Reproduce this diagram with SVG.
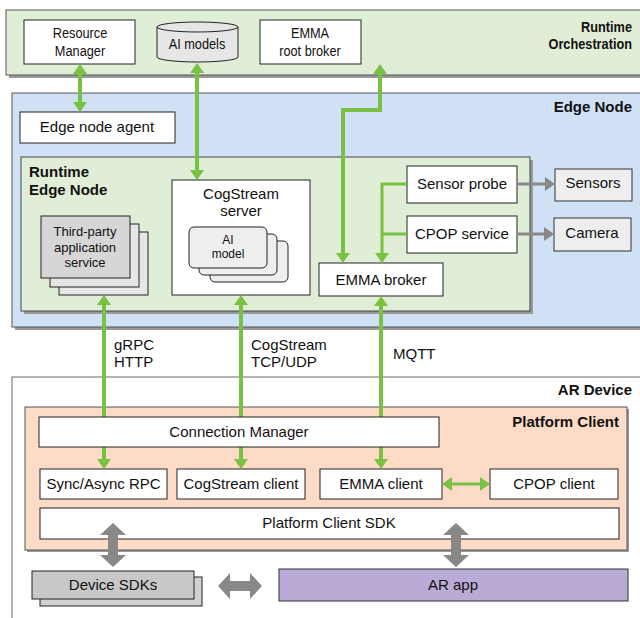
<svg xmlns="http://www.w3.org/2000/svg" width="640" height="618" viewBox="0 0 640 618">
<style>
text{font-family:"Liberation Sans",Arial,sans-serif;font-size:15px;fill:#111}
.b{font-weight:bold}
.s{font-size:13px}
.m{text-anchor:middle}
.e{text-anchor:end}
.box{fill:#fff;stroke:#222;stroke-width:1}
.gbox{fill:#eeeeee;stroke:#333;stroke-width:1}
.gl{fill:none;stroke:#78c143;stroke-width:4}
.gt{fill:none;stroke:#78c143;stroke-width:3}
.gy{fill:none;stroke:#888;stroke-width:3}
.fat{fill:#888}
.sh{fill:#999}
</style>
<defs>
<marker id="ga" markerUnits="userSpaceOnUse" markerWidth="10" markerHeight="14" refX="0" refY="7" orient="auto-start-reverse" viewBox="0 0 10 14"><path d="M0,0 L10,7 L0,14 Z" fill="#78c143"/></marker>
<marker id="gya" markerUnits="userSpaceOnUse" markerWidth="10" markerHeight="14" refX="0" refY="7" orient="auto" viewBox="0 0 10 14"><path d="M0,0 L10,7 L0,14 Z" fill="#888"/></marker>
<path id="fatv" d="M0,-22 L13,-10 L5,-10 L5,10 L13,10 L0,22 L-13,10 L-5,10 L-5,-10 L-13,-10 Z"/>
</defs>

<g id="runtime-orchestration">
<rect class="sh" x="9" y="13" width="640" height="65"/>
<rect x="6" y="10" width="640" height="65" fill="#e1eed7" stroke="#555"/>
<text class="b e" transform="translate(632,32) scale(0.85,1)">Runtime</text>
<text class="b e" transform="translate(632,49) scale(0.85,1)">Orchestration</text>
</g>
<g id="resource-manager">
<rect class="box" x="24" y="20" width="111" height="44"/>
<text class="m" transform="translate(80,38) scale(0.85,1)">Resource</text>
<text class="m" transform="translate(80,56) scale(0.85,1)">Manager</text>
</g>
<g id="ai-models">
<path d="M157,27 A40.5,5 0 0 1 238,27 L238,57 A40.5,5 0 0 1 157,57 Z" fill="#e6e6e6" stroke="#222"/>
<path d="M157,27 A40.5,5 0 0 0 238,27" fill="none" stroke="#222"/>
<text class="m" transform="translate(197,49) scale(0.85,1)">AI models</text>
</g>
<g id="emma-root-broker">
<rect class="box" x="260" y="20" width="101" height="44"/>
<text class="m" transform="translate(310,38) scale(0.85,1)">EMMA</text>
<text class="m" transform="translate(310,56) scale(0.85,1)">root broker</text>
</g>

<g id="edge-node">
<rect class="sh" x="15" y="96" width="640" height="234"/>
<rect x="12" y="93" width="640" height="234" fill="#d0e1f5" stroke="#555"/>
<text class="b e" x="632" y="112">Edge Node</text>
</g>
<g id="edge-node-agent">
<rect class="box" x="20" y="112" width="155" height="31"/>
<text class="m" x="97" y="132">Edge node agent</text>
</g>
<g id="runtime-edge-node">
<rect class="sh" x="24" y="160" width="509" height="154"/>
<rect x="21" y="157" width="509" height="154" fill="#e1eed7" stroke="#444"/>
<text class="b" x="29" y="177">Runtime</text>
<text class="b" x="29" y="195">Edge Node</text>
</g>
<g id="third-party-service">
<rect x="59" y="232" width="89" height="63" fill="#e6e6e6" stroke="#222"/>
<rect x="50" y="224" width="89" height="63" fill="#e6e6e6" stroke="#222"/>
<rect x="41" y="216" width="89" height="62" fill="#d6d6d6" stroke="#222"/>
<text class="m s" x="85" y="236" fill="#333">Third-party</text>
<text class="m s" x="85" y="252">application</text>
<text class="m s" x="85" y="267">service</text>
</g>
<g id="cogstream-server">
<rect class="box" x="172" y="180" width="138" height="115"/>
<text class="m" x="241" y="199">CogStream</text>
<text class="m" x="241" y="216">server</text>
<rect x="210" y="241" width="78" height="41" rx="5" fill="#eeeeee" stroke="#222"/>
<rect x="199" y="234" width="78" height="41" rx="5" fill="#eeeeee" stroke="#222"/>
<rect x="189" y="227" width="78" height="41" rx="5" fill="#eeeeee" stroke="#222"/>
<text class="m" style="font-size:12px" x="228" y="244">AI</text>
<text class="m" style="font-size:12px" x="228" y="258">model</text>
</g>
<g id="sensor-probe">
<rect class="box" x="407" y="166" width="110" height="37"/>
<text class="m" x="462" y="189">Sensor probe</text>
</g>
<g id="cpop-service">
<rect class="box" x="407" y="216" width="110" height="37"/>
<text class="m" x="462" y="239">CPOP service</text>
</g>
<g id="emma-broker">
<rect class="box" x="319" y="263" width="124" height="33"/>
<text class="m" x="381" y="285">EMMA broker</text>
</g>
<g id="sensors">
<rect class="gbox" x="555" y="169" width="77" height="32"/>
<text class="m" x="593" y="188">Sensors</text>
</g>
<g id="camera">
<rect class="gbox" x="554" y="218" width="77" height="33"/>
<text class="m" x="592" y="238">Camera</text>
</g>

<g id="ar-device">
<rect x="12" y="377" width="640" height="260" fill="#fff" stroke="#666"/>
<text class="b e" x="632" y="395">AR Device</text>
</g>
<g id="platform-client">
<rect class="sh" x="27" y="409" width="602" height="143"/>
<rect x="25" y="407" width="602" height="143" fill="#fddbc7" stroke="#555"/>
<text class="b e" x="619" y="427">Platform Client</text>
</g>
<g id="sync-async-rpc">
<rect class="box" x="40" y="469" width="127" height="30"/>
<text class="m" x="103.5" y="489">Sync/Async RPC</text>
</g>
<g id="cogstream-client">
<rect class="box" x="177" y="469" width="128" height="30"/>
<text class="m" x="241" y="489">CogStream client</text>
</g>
<g id="emma-client">
<rect class="box" x="320" y="469" width="122" height="30"/>
<text class="m" x="381" y="489">EMMA client</text>
</g>
<g id="cpop-client">
<rect class="box" x="490" y="469" width="128" height="30"/>
<text class="m" x="554" y="489">CPOP client</text>
</g>
<g id="platform-client-sdk">
<rect class="box" x="40" y="508" width="579" height="31"/>
<text class="m" x="329" y="528">Platform Client SDK</text>
</g>
<g id="device-sdks">
<rect x="40" y="577" width="162" height="29" fill="#d0d0d0" stroke="#222"/>
<rect x="32" y="571" width="162" height="28" fill="#c8c8c8" stroke="#222"/>
<text class="m" x="113" y="590">Device SDKs</text>
</g>
<g id="ar-app">
<rect x="279" y="569" width="349" height="32" fill="#b9abd5" stroke="#333"/>
<text class="m" x="453" y="590">AR app</text>
</g>

<g id="connectors">
<path class="gl" d="M80,74 L80,102" marker-start="url(#ga)" marker-end="url(#ga)"/>
<path class="gl" d="M197,73 L197,170" marker-start="url(#ga)" marker-end="url(#ga)"/>
<path class="gl" d="M380,74 L380,110 L343,110 L343,253" marker-start="url(#ga)" marker-end="url(#ga)"/>
<path class="gt" d="M407,184 L382,184 L382,253" marker-end="url(#ga)"/>
<path class="gt" d="M407,234 L382,234"/>
<path class="gy" d="M517,184 L545,184" marker-end="url(#gya)"/>
<path class="gy" d="M517,234 L544,234" marker-end="url(#gya)"/>
<path class="gl" d="M104,305 L104,459" marker-start="url(#ga)" marker-end="url(#ga)"/>
<path class="gl" d="M241,305 L241,459" marker-start="url(#ga)" marker-end="url(#ga)"/>
<path class="gl" d="M381,306 L381,459" marker-start="url(#ga)" marker-end="url(#ga)"/>
<path class="gt" d="M452,484 L480,484" marker-start="url(#ga)" marker-end="url(#ga)"/>
<use href="#fatv" class="fat" transform="translate(113,545)"/>
<use href="#fatv" class="fat" transform="translate(456,545)"/>
<use href="#fatv" class="fat" transform="translate(240,586) rotate(90)"/>
<text x="114" y="350">gRPC</text>
<text x="114" y="367">HTTP</text>
<text x="251" y="350">CogStream</text>
<text x="251" y="367">TCP/UDP</text>
<text x="393" y="359">MQTT</text>
</g>

<g id="connection-manager">
<rect class="box" x="39" y="417" width="400" height="30"/>
<text class="m" x="239" y="437">Connection Manager</text>
</g>
</svg>
